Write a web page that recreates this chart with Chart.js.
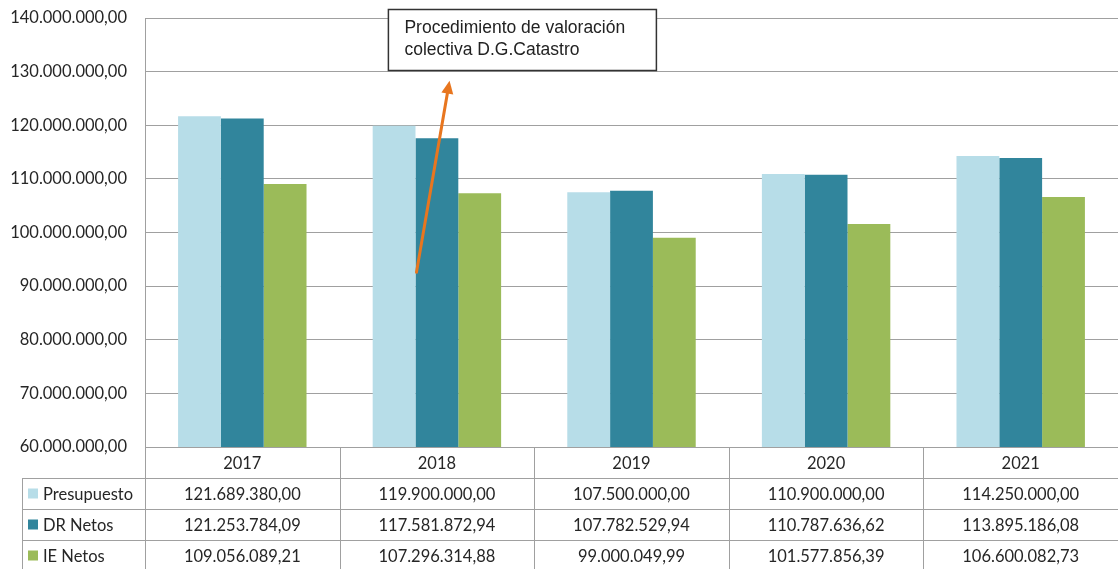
<!DOCTYPE html>
<html>
<head>
<meta charset="utf-8">
<script src="https://cdn.jsdelivr.net/npm/chart.js@4.4.0/dist/chart.umd.min.js"></script>
<style>
  html, body { margin: 0; padding: 0; background: #fff; }
  #wrap { width: 1118px; height: 569px; }
</style>
</head>
<body>
<div id="wrap"><canvas id="myChart"></canvas></div>
<script>
/* globals Chart:false */
const years = ['2017', '2018', '2019', '2020', '2021']
const presupuesto = [121689380.00, 119900000.00, 107500000.00, 110900000.00, 114250000.00]
const drNetos = [121253784.09, 117581872.94, 107782529.94, 110787636.62, 113895186.08]
const ieNetos = [109056089.21, 107296314.88, 99000049.99, 101577856.39, 106600082.73]
const seriesNames = ['Presupuesto', 'DR Netos', 'IE Netos']
const seriesColors = ['#B7DDE8', '#31859C', '#9BBB59']
const noteLines = ['Procedimiento de valoración', 'colectiva D.G.Catastro']

const fmt = v => {
  const [i, d] = v.toFixed(2).split('.')
  return i.replace(/\B(?=(\d{3})+(?!\d))/g, '.') + ',' + d
}

const gridColor = '#A0A0A0'
const textColor = '#262626'
const rowH = 31

// data table under the plot + callout with arrow
const tablePlugin = {
  id: 'tableAndNote',
  afterDraw(chart) {
    const { ctx, chartArea: a, scales: { x, y } } = chart
    const cw = x.getPixelForValue(1) - x.getPixelForValue(0)
    const labelLeft = a.left - 123
    const bottom = chart.height + 2
    const allSeries = [presupuesto, drNetos, ieNetos]

    ctx.save()
    ctx.strokeStyle = gridColor
    ctx.lineWidth = 1
    ctx.beginPath()
    // horizontal row lines
    for (let r = 1; r <= 3; r++) {
      const yy = Math.round(a.bottom + r * rowH) + 0.5
      ctx.moveTo(labelLeft, yy)
      ctx.lineTo(a.right, yy)
    }
    // vertical lines
    ctx.moveTo(labelLeft + 0.5, a.bottom + rowH)
    ctx.lineTo(labelLeft + 0.5, bottom)
    ctx.moveTo(Math.round(a.left) + 0.5, a.bottom)
    ctx.lineTo(Math.round(a.left) + 0.5, bottom)
    for (let i = 1; i < years.length; i++) {
      const xx = Math.round(x.getPixelForValue(i) - cw / 2) + 0.5
      ctx.moveTo(xx, a.bottom)
      ctx.lineTo(xx, bottom)
    }
    ctx.stroke()

    ctx.fillStyle = textColor
    ctx.font = '16.5px Lato'
    ctx.textAlign = 'center'
    ctx.textBaseline = 'middle'
    years.forEach((yr, i) => {
      ctx.fillText(yr, x.getPixelForValue(i), a.bottom + rowH / 2 + 1)
    })
    allSeries.forEach((s, r) => {
      const cy = a.bottom + rowH * (r + 1) + rowH / 2 + 1
      s.forEach((v, i) => {
        ctx.fillText(fmt(v), x.getPixelForValue(i), cy)
      })
      ctx.fillStyle = seriesColors[r]
      ctx.fillRect(labelLeft + 6, cy - 6, 10, 10)
      ctx.fillStyle = textColor
      ctx.textAlign = 'left'
      ctx.fillText(seriesNames[r], labelLeft + 21, cy)
      ctx.textAlign = 'center'
    })

    // arrow
    const x0 = x.getPixelForValue(1) - 0.105 * cw
    const y0 = y.getPixelForValue(92600000)
    const x1 = x.getPixelForValue(1) + 0.065 * cw
    const y1 = y.getPixelForValue(128300000)
    const ang = Math.atan2(y1 - y0, x1 - x0)
    ctx.strokeStyle = '#E8761F'
    ctx.fillStyle = '#E8761F'
    ctx.lineWidth = 3
    ctx.lineCap = 'round'
    ctx.beginPath()
    ctx.moveTo(x0, y0)
    ctx.lineTo(x1 - 8 * Math.cos(ang), y1 - 8 * Math.sin(ang))
    ctx.stroke()
    ctx.beginPath()
    ctx.moveTo(x1, y1)
    ctx.lineTo(x1 - 13 * Math.cos(ang) + 6 * Math.sin(ang), y1 - 13 * Math.sin(ang) - 6 * Math.cos(ang))
    ctx.lineTo(x1 - 13 * Math.cos(ang) - 6 * Math.sin(ang), y1 - 13 * Math.sin(ang) + 6 * Math.cos(ang))
    ctx.closePath()
    ctx.fill()

    // callout box
    const bx = x.getPixelForValue(1) - 48.5
    const by = 9.5
    ctx.fillStyle = '#fff'
    ctx.fillRect(bx, by, 268, 61)
    ctx.strokeStyle = '#333'
    ctx.lineWidth = 1.5
    ctx.strokeRect(bx, by, 268, 61)
    ctx.fillStyle = '#222'
    ctx.font = '17.5px "Liberation Sans"'
    ctx.textAlign = 'left'
    ctx.fillText(noteLines[0], bx + 16, by + 19)
    ctx.fillText(noteLines[1], bx + 16, by + 41)
    ctx.restore()
  }
}

const ctx = document.getElementById('myChart')
// eslint-disable-next-line no-unused-vars
const myChart = new Chart(ctx, {
  type: 'bar',
  data: {
    labels: years,
    datasets: [
      { label: seriesNames[0], data: presupuesto, backgroundColor: seriesColors[0] },
      { label: seriesNames[1], data: drNetos, backgroundColor: seriesColors[1] },
      { label: seriesNames[2], data: ieNetos, backgroundColor: seriesColors[2] }
    ]
  },
  options: {
    responsive: true,
    maintainAspectRatio: false,
    animation: false,
    datasets: {
      bar: { categoryPercentage: 0.66, barPercentage: 1.0, borderWidth: 0 }
    },
    layout: { padding: { top: 18, right: 0, bottom: 122, left: 0 } },
    scales: {
      x: { display: false },
      y: {
        min: 60000000,
        max: 140000000,
        afterFit(scale) {
          scale.width = 145
          scale.paddingTop = 0
          scale.paddingBottom = 0
        },
        border: { display: true, color: gridColor },
        grid: { color: gridColor, drawTicks: false },
        ticks: {
          stepSize: 10000000,
          padding: 18,
          color: textColor,
          font: { family: 'Lato', size: 16.5 },
          callback: v => fmt(v)
        }
      }
    },
    plugins: {
      legend: { display: false },
      tooltip: { enabled: false }
    }
  },
  plugins: [tablePlugin]
})
</script>
</body>
</html>
